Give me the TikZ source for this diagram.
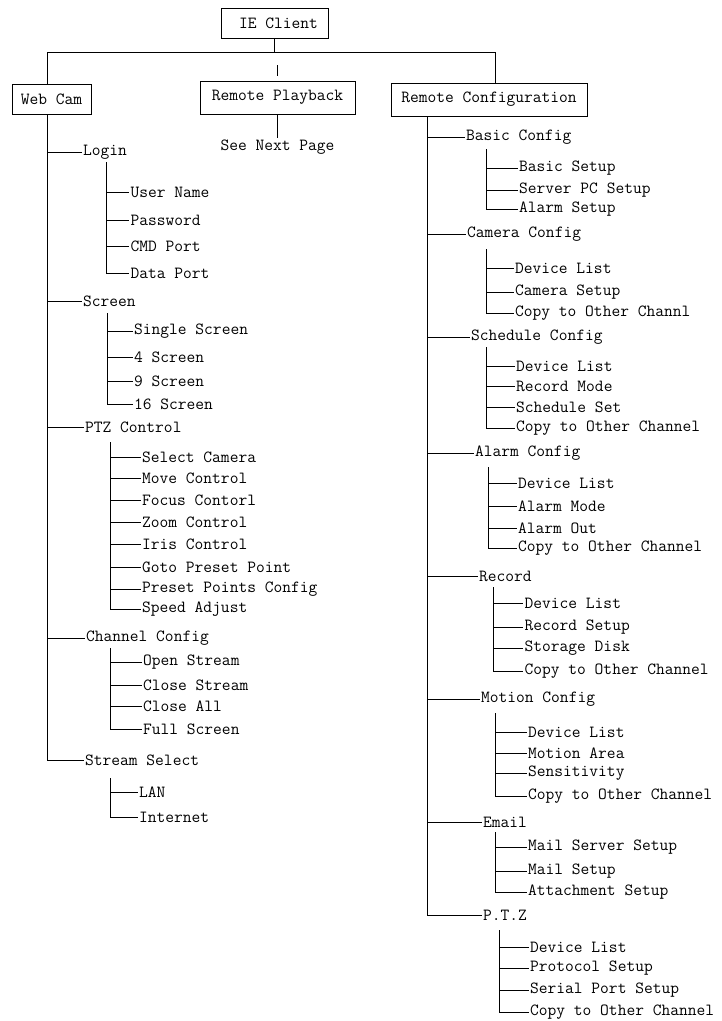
\documentclass[tikz,border=0pt]{standalone}
\usepackage{fontspec}
\usetikzlibrary{positioning}
\tikzset{
    menubox/.style={draw, line width=0.8pt, inner sep=0pt, font=\ttfamily\fontsize{17}{20}\selectfont},
    item/.style={anchor=west, inner xsep=1.5pt, inner ysep=1pt, font=\ttfamily\fontsize{17}{20}\selectfont},
    link/.style={line width=0.8pt}
}

\begin{document}
\begin{tikzpicture}[x=1pt, y=-1pt]
    \useasboundingbox (0,0) rectangle (722,1021);

    % top level
    \node[menubox, minimum width=107pt, minimum height=30pt] (ie) at (274.5,23) {\hspace{8pt}IE Client};
    \node[menubox, minimum width=79pt, minimum height=30pt] (wc) at (51.5,99) {Web Cam};
    \node[menubox, minimum width=155pt, minimum height=33pt] (rp) at (277.5,97.5) {Remote Playback};
    \node[menubox, minimum width=196pt, minimum height=33pt] (rc) at (489,99.5) {Remote Configuration};
    \node[item, below=24pt of rp] (snp) {See Next Page};

    \coordinate (busL) at (47,52);
    \coordinate (busR) at (495,52);
    \draw[link] (ie.south) -- (ie.south |- busL);
    \draw[link] (wc.north -| busL) |- (busR) -- (rc.north -| busR);
    \draw[link] ([yshift=5pt]rp.north) -- ([yshift=16pt]rp.north);
    \draw[link] (rp.south) -- (snp.north);

    % Web Cam
    \coordinate (wcT) at (wc.south -| busL);
    \node[item] (lg) at (81.5,152) {Login};
    \node[item] (scr) at (81.5,301) {Screen};
    \node[item] (ptz) at (83.5,427) {PTZ Control};
    \node[item] (cc) at (84.5,638) {Channel Config};
    \node[item] (ss) at (83.5,760) {Stream Select};
    \draw[link] (wcT) |- (ss.west);
    \foreach \c in {lg,scr,ptz,cc} \draw[link] (wcT |- \c.west) -- (\c.west);

    \coordinate (lgT) at (106,162);
    \foreach \n/\y/\t in {1/192/User Name,2/220/Password,3/246/CMD Port,4/273/Data Port}
        \node[item] (lg\n) at (129,\y) {\t};
    \draw[link] (lgT) |- (lg4.west);
    \foreach \n in {1,2,3} \draw[link] (lgT |- lg\n.west) -- (lg\n.west);

    \coordinate (scrT) at (107,313);
    \foreach \n/\y/\t in {1/331/Single Screen,2/357/4 Screen,3/381/9 Screen,4/404/16 Screen}
        \node[item] (scr\n) at (132.5,\y) {\t};
    \draw[link] (scrT) |- (scr4.west);
    \foreach \n in {1,2,3} \draw[link] (scrT |- scr\n.west) -- (scr\n.west);

    \coordinate (ptzT) at (110,442);
    \foreach \n/\y/\t in {1/457/Select Camera,2/478/Move Control,3/500/Focus Contorl,4/522/Zoom Control,
                          5/544/Iris Control,6/567/Goto Preset Point,7/589/Preset Points Config,8/609/Speed Adjust}
        \node[item] (ptz\n) at (140.5,\y) {\t};
    \draw[link] (ptzT) |- (ptz8.west);
    \foreach \n in {1,...,7} \draw[link] (ptzT |- ptz\n.west) -- (ptz\n.west);

    \coordinate (ccT) at (110,648);
    \foreach \n/\y/\t in {1/662/Open Stream,2/685/Close Stream,3/706/Close All,4/729/Full Screen}
        \node[item] (cc\n) at (141.5,\y) {\t};
    \draw[link] (ccT) |- (cc4.west);
    \foreach \n in {1,2,3} \draw[link] (ccT |- cc\n.west) -- (cc\n.west);

    \coordinate (ssT) at (110,778);
    \node[item] (ss1) at (137.5,792) {LAN};
    \node[item] (ss2) at (137.5,817) {Internet};
    \draw[link] (ssT) |- (ss2.west);
    \draw[link] (ssT |- ss1.west) -- (ss1.west);

    % Remote Configuration
    \coordinate (rcT) at (427,116);
    \node[item] (bc) at (464.5,137) {Basic Config};
    \node[item] (cam) at (465.5,234) {Camera Config};
    \node[item] (sch) at (469.5,337) {Schedule Config};
    \node[item] (alm) at (473.5,453) {Alarm Config};
    \node[item] (rec) at (477.5,576) {Record};
    \node[item] (mot) at (479.5,699) {Motion Config};
    \node[item] (eml) at (481.5,822) {Email};
    \node[item] (pz) at (481.5,915) {P.T.Z};
    \draw[link] (rcT) |- (pz.west);
    \foreach \c in {bc,cam,sch,alm,rec,mot,eml} \draw[link] (rcT |- \c.west) -- (\c.west);

    \coordinate (bcT) at (486,149);
    \foreach \n/\y/\t in {1/168/Basic Setup,2/190/Server PC Setup,3/209/Alarm Setup}
        \node[item] (bc\n) at (517.5,\y) {\t};
    \draw[link] (bcT) |- (bc3.west);
    \foreach \n in {1,2} \draw[link] (bcT |- bc\n.west) -- (bc\n.west);

    \coordinate (camT) at (486,249);
    \foreach \n/\y/\t in {1/268/Device List,2/292/Camera Setup,3/313/Copy to Other Channl}
        \node[item] (cam\n) at (513.5,\y) {\t};
    \draw[link] (camT) |- (cam3.west);
    \foreach \n in {1,2} \draw[link] (camT |- cam\n.west) -- (cam\n.west);

    \coordinate (schT) at (486,347);
    \foreach \n/\y/\t in {1/366/Device List,2/386/Record Mode,3/407/Schedule Set,4/428/Copy to Other Channel}
        \node[item] (sch\n) at (514.5,\y) {\t};
    \draw[link] (schT) |- (sch4.west);
    \foreach \n in {1,2,3} \draw[link] (schT |- sch\n.west) -- (sch\n.west);

    \coordinate (almT) at (488,467);
    \foreach \n/\y/\t in {1/483/Device List,2/506/Alarm Mode,3/528/Alarm Out,4/548/Copy to Other Channel}
        \node[item] (alm\n) at (516.5,\y) {\t};
    \draw[link] (almT) |- (alm4.west);
    \foreach \n in {1,2,3} \draw[link] (almT |- alm\n.west) -- (alm\n.west);

    \coordinate (recT) at (493,587);
    \foreach \n/\y/\t in {1/603/Device List,2/627/Record Setup,3/648/Storage Disk,4/671/Copy to Other Channel}
        \node[item] (rec\n) at (523,\y) {\t};
    \draw[link] (recT) |- (rec4.west);
    \foreach \n in {1,2,3} \draw[link] (recT |- rec\n.west) -- (rec\n.west);

    \coordinate (motT) at (495,713);
    \foreach \n/\y/\t in {1/732/Device List,2/753/Motion Area,3/773/Sensitivity,4/796/Copy to Other Channel}
        \node[item] (mot\n) at (526.5,\y) {\t};
    \draw[link] (motT) |- (mot4.west);
    \foreach \n in {1,2,3} \draw[link] (motT |- mot\n.west) -- (mot\n.west);

    \coordinate (emlT) at (495,832);
    \foreach \n/\y/\t in {1/847/Mail Server Setup,2/871/Mail Setup,3/892/Attachment Setup}
        \node[item] (eml\n) at (526.5,\y) {\t};
    \draw[link] (emlT) |- (eml3.west);
    \foreach \n in {1,2} \draw[link] (emlT |- eml\n.west) -- (eml\n.west);

    \coordinate (pzT) at (499,930);
    \foreach \n/\y/\t in {1/947/Device List,2/968/Protocol Setup,3/990/Serial Port Setup,4/1012/Copy to Other Channel}
        \node[item] (pz\n) at (528.5,\y) {\t};
    \draw[link] (pzT) |- (pz4.west);
    \foreach \n in {1,2,3} \draw[link] (pzT |- pz\n.west) -- (pz\n.west);

\end{tikzpicture}
\end{document}
